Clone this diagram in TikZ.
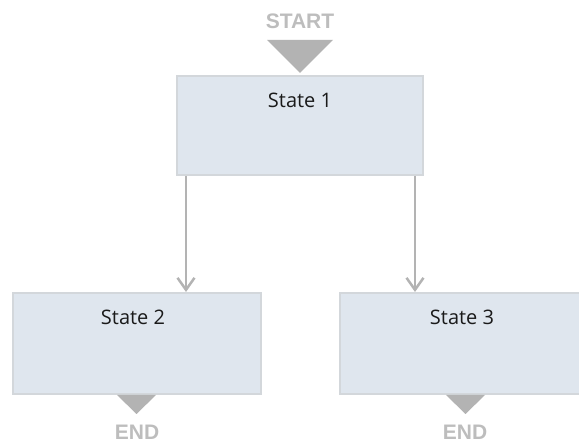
\documentclass[tikz,border=0pt]{standalone}
\usepackage{fontspec}
\setmainfont{Open Sans}
\newfontfamily\headfont{Liberation Sans}
\usetikzlibrary{arrows.meta}
\definecolor{boxfill}{HTML}{DFE6EE}
\definecolor{boxline}{HTML}{D3D7DB}
\definecolor{grayc}{HTML}{B3B3B3}
\definecolor{txtgray}{HTML}{BDBDBD}
\definecolor{titlec}{HTML}{1A1A1A}
\begin{document}
\begin{tikzpicture}[x=1pt,y=-1pt,
  statebox/.style={draw=boxline, fill=boxfill, line width=2pt, rectangle, inner sep=0pt},
  titletext/.style={font=\fontsize{20}{24}\selectfont, text=titlec, inner sep=0pt},
  termtext/.style={font=\headfont\bfseries\fontsize{21}{24}\selectfont, text=txtgray, inner sep=0pt},
  arr/.style={draw=grayc, line width=2.5pt, -{Straight Barb[length=12pt,width=17pt,line width=2.5pt]}},
  tri/.style={fill=grayc}]
\useasboundingbox (0,0) rectangle (579,443);
% boxes
\node[statebox, minimum width=246pt, minimum height=99pt] (s1) at (300,125.5) {};
\node[statebox, minimum width=248pt, minimum height=101pt] (s2) at (137,343.5) {};
\node[statebox, minimum width=240pt, minimum height=101pt] (s3) at (460,343.5) {};
% titles
\node[titletext] (t1) at (300,100) {State 1};
\node[titletext] (t2) at (133,317) {State 2};
\node[titletext] (t3) at (462,317) {State 3};
% start / end
\node[termtext] (start) at (300,21) {START};
\fill[tri] (267,40) -- (333,40) -- (300,73) -- cycle;
\fill[tri] (117,395) -- (156,395) -- (136.5,414) -- cycle;
\fill[tri] (446,395) -- (485,395) -- (465.5,414) -- cycle;
\node[termtext] (end2) at (137,432) {END};
\node[termtext] (end3) at (465,432) {END};
% connectors
\coordinate (a1) at (186,176);
\coordinate (a2) at (415,176);
\draw[arr] (a1) -- (a1 |- s2.north);
\draw[arr] (a2) -- (a2 |- s3.north);
\end{tikzpicture}
\end{document}
